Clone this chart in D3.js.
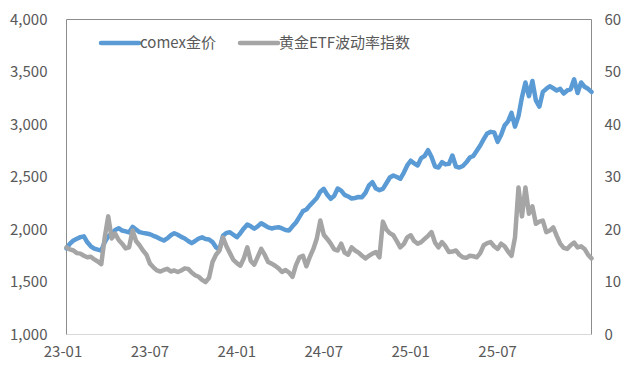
<!DOCTYPE html>
<html lang="zh">
<head>
    <meta charset="UTF-8">
    <title>comex金价与黄金ETF波动率指数</title>
    <script src="https://d3js.org/d3.v7.min.js"></script>
    <style>
        body {
            margin: 0;
            padding: 0;
            background: #ffffff;
            overflow: hidden;
        }
        svg text {
            font-family: "Noto Sans CJK SC", "Noto Sans", sans-serif;
            fill: #595959;
        }
    </style>
</head>
<body>
    <svg id="chart" width="640" height="384"></svg>

    <script>
        // --- Data (one point per ~3.5px) ---
        const goldPrice = [
            1820, 1865, 1895, 1912, 1927, 1935, 1878, 1840, 1818, 1808,
            1800, 1880, 1935, 1960, 1995, 2012, 1990, 1982, 1972, 2025,
            2000, 1975, 1968, 1962, 1955, 1940, 1927, 1910, 1895, 1915,
            1945, 1965, 1950, 1930, 1915, 1890, 1870, 1890, 1914, 1925,
            1910, 1905, 1880, 1830, 1810, 1940, 1968, 1974, 1950, 1927,
            1965, 2010, 2048, 2030, 2007, 2030, 2060, 2040, 2020, 2010,
            2018, 2022, 2010, 1995, 1990, 2030, 2067, 2120, 2175, 2190,
            2230, 2265, 2300, 2360, 2387, 2330, 2292, 2320, 2390, 2370,
            2330, 2315, 2295, 2300, 2310, 2308, 2350, 2420, 2450, 2390,
            2375, 2387, 2440, 2495, 2514, 2500, 2483, 2540, 2610, 2655,
            2630, 2610, 2680, 2700, 2755, 2690, 2600, 2590, 2641, 2620,
            2625, 2705, 2600, 2590, 2605, 2640, 2685, 2700, 2750, 2800,
            2860, 2915, 2930, 2925, 2835, 2900, 2990, 3030, 3110, 2980,
            3080, 3260, 3400, 3270, 3415, 3230, 3170, 3310, 3340, 3365,
            3345, 3324, 3340, 3295, 3324, 3335, 3430, 3300, 3400, 3360,
            3340, 3310
        ];

        const etfVolatility = [
            16.6, 16.2, 16.0, 15.5, 15.4, 15.0, 14.7, 14.8, 14.3, 13.9,
            13.4, 18.5, 22.5, 18.3, 19.2, 18.0, 17.3, 16.4, 16.6, 19.8,
            17.8, 17.0, 16.0, 15.2, 13.5, 12.8, 12.2, 12.0, 12.3, 12.5,
            12.0, 12.2, 11.9, 12.2, 12.6, 12.5, 11.8, 11.3, 11.0, 10.4,
            10.0, 10.8, 13.8, 15.2, 16.0, 18.5, 16.8, 15.5, 14.2, 13.6,
            13.1, 14.5, 16.6, 14.0, 13.3, 14.8, 16.3, 15.2, 13.8, 13.5,
            13.1, 12.6, 11.9, 12.3, 11.8, 11.0, 13.2, 14.7, 15.0, 13.0,
            14.8, 16.3, 18.3, 21.7, 19.0, 18.2, 17.3, 16.2, 16.0, 17.3,
            15.6, 15.2, 16.6, 16.0, 15.6, 15.0, 14.5, 15.0, 15.4, 15.7,
            14.7, 21.5, 20.0, 19.3, 18.9, 17.8, 16.6, 17.2, 18.5, 18.9,
            17.8, 17.3, 17.6, 18.2, 18.8, 19.5, 17.5, 16.6, 17.6, 16.8,
            15.7, 15.8, 16.0, 15.2, 14.7, 14.6, 15.0, 14.9, 14.7, 15.5,
            17.0, 17.4, 17.6, 16.8, 16.3, 17.3, 16.8, 15.8, 15.0, 18.5,
            28.0, 22.5, 28.0, 23.0, 24.4, 21.1, 21.5, 21.7, 19.5, 19.8,
            20.4, 18.8, 17.3, 16.5, 16.3, 17.0, 17.5, 16.6, 16.8, 16.3,
            15.2, 14.5
        ];

        // x tick labels sit every 25 points (category axis)
        const xTickLabels = ["23-01", "23-07", "24-01", "24-07", "25-01", "25-07"];
        const xTickStep = 25;
        const leftTicks = [1000, 1500, 2000, 2500, 3000, 3500, 4000];
        const rightTicks = [0, 10, 20, 30, 40, 50, 60];
        const seriesNames = ["comex金价", "黄金ETF波动率指数"];

        // --- Setup ---
        const svg = d3.select("#chart");
        const margin = { top: 19.5, right: 48.5, bottom: 49.5, left: 66.5 };
        const width = 640, height = 384;

        const x = d3.scaleLinear()
            .domain([0, goldPrice.length - 1])
            .range([margin.left, width - margin.right]);
        const yLeft = d3.scaleLinear()
            .domain([1000, 4000])
            .range([height - margin.bottom, margin.top]);
        const yRight = d3.scaleLinear()
            .domain([0, 60])
            .range([height - margin.bottom, margin.top]);

        const blue = "#5b9bd5";
        const grey = "#a5a5a5";

        // --- Frame ---
        svg.append("line")
            .attr("x1", margin.left).attr("x2", width - margin.right)
            .attr("y1", height - margin.bottom).attr("y2", height - margin.bottom)
            .attr("stroke", "#d9d9d9").attr("stroke-width", 1);
        svg.append("path")
            .attr("d", `M${margin.left},${height - margin.bottom}V${margin.top}H${width - margin.right}V${height - margin.bottom}`)
            .attr("fill", "none")
            .attr("stroke", "#8c8c8c")
            .attr("stroke-width", 1);

        // --- Axes ---
        const leftAxis = svg.append("g")
            .attr("transform", `translate(${margin.left},0)`)
            .call(d3.axisLeft(yLeft).tickValues(leftTicks).tickSize(0).tickPadding(19).tickFormat(d3.format(",")));
        const rightAxis = svg.append("g")
            .attr("transform", `translate(${width - margin.right},0)`)
            .call(d3.axisRight(yRight).tickValues(rightTicks).tickSize(0).tickPadding(13));
        const bottomAxis = svg.append("g")
            .attr("transform", `translate(0,${height - margin.bottom})`)
            .call(d3.axisBottom(x)
                .tickValues(xTickLabels.map((d, i) => i * xTickStep))
                .tickSize(0).tickPadding(12)
                .tickFormat((d, i) => xTickLabels[i]));

        [leftAxis, rightAxis, bottomAxis].forEach(g => {
            g.select(".domain").remove();
            g.selectAll("text")
                .attr("font-size", 15)
                .attr("font-family", "'Noto Sans CJK SC', sans-serif")
                .attr("fill", "#595959");
        });
        bottomAxis.selectAll("text").attr("dx", -4);

        // --- Lines ---
        const goldLine = d3.line()
            .x((d, i) => x(i))
            .y(d => yLeft(d));
        const volLine = d3.line()
            .x((d, i) => x(i))
            .y(d => yRight(d));

        svg.append("path")
            .datum(goldPrice)
            .attr("d", goldLine)
            .attr("fill", "none")
            .attr("stroke", blue)
            .attr("stroke-width", 4.5)
            .attr("stroke-linejoin", "round")
            .attr("stroke-linecap", "round");

        svg.append("path")
            .datum(etfVolatility)
            .attr("d", volLine)
            .attr("fill", "none")
            .attr("stroke", grey)
            .attr("stroke-width", 4.5)
            .attr("stroke-linejoin", "round")
            .attr("stroke-linecap", "round");

        // --- Legend ---
        const legendItems = [
            { name: seriesNames[0], color: blue, x0: 101 },
            { name: seriesNames[1], color: grey, x0: 240 }
        ];
        const legend = svg.append("g").attr("class", "legend");
        legendItems.forEach(item => {
            legend.append("line")
                .attr("x1", item.x0).attr("x2", item.x0 + 38)
                .attr("y1", 43).attr("y2", 43)
                .attr("stroke", item.color)
                .attr("stroke-width", 4.5)
                .attr("stroke-linecap", "round");
            legend.append("text")
                .attr("x", item.x0 + 39)
                .attr("y", 43)
                .attr("dy", "0.35em")
                .attr("font-size", 15)
                .text(item.name);
        });
    </script>
</body>
</html>
